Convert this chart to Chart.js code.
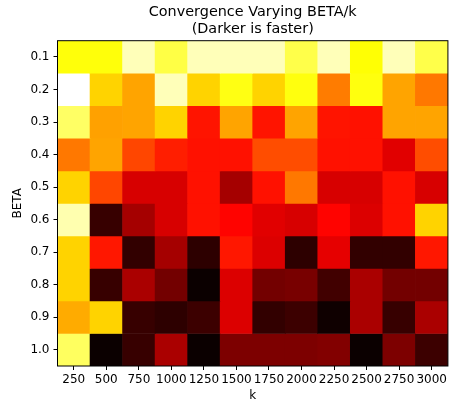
<!DOCTYPE html>
<html>
<head>
<meta charset="utf-8">
<script src="https://cdn.jsdelivr.net/npm/chart.js@4"></script>
<style>
  body { margin: 0; background: #fff; }
</style>
</head>
<body>
<canvas id="myChart" width="450" height="406"></canvas>
<script>
// k values along x, BETA values along y
const kValues = ["250", "500", "750", "1000", "1250", "1500", "1750", "2000", "2250", "2500", "2750", "3000"];
const betas = ["0.1", "0.2", "0.3", "0.4", "0.5", "0.6", "0.7", "0.8", "0.9", "1.0"];

// convergence (normalised, 0 = fastest / darkest), one row per BETA
const row01 = [0.756, 0.756, 0.93, 0.815, 0.93, 0.93, 0.93, 0.82, 0.93, 0.75, 0.93, 0.82];
const row02 = [1.0, 0.68, 0.61, 0.93, 0.68, 0.765, 0.68, 0.76, 0.55, 0.76, 0.61, 0.545];
const row03 = [0.846, 0.605, 0.61, 0.68, 0.395, 0.61, 0.395, 0.61, 0.395, 0.39, 0.61, 0.61];
const row04 = [0.545, 0.61, 0.47, 0.41, 0.39, 0.39, 0.48, 0.48, 0.39, 0.39, 0.32, 0.48];
const row05 = [0.68, 0.47, 0.305, 0.305, 0.39, 0.231, 0.39, 0.545, 0.305, 0.305, 0.39, 0.305];
const row06 = [0.92, 0.066, 0.231, 0.305, 0.39, 0.37, 0.32, 0.305, 0.37, 0.313, 0.39, 0.68];
const row07 = [0.68, 0.4, 0.059, 0.231, 0.051, 0.4, 0.313, 0.051, 0.328, 0.059, 0.059, 0.4];
const row08 = [0.68, 0.066, 0.238, 0.156, 0.0, 0.313, 0.156, 0.163, 0.081, 0.238, 0.156, 0.156];
const row09 = [0.62, 0.68, 0.066, 0.051, 0.074, 0.313, 0.059, 0.074, 0.007, 0.238, 0.066, 0.238];
const row10 = [0.841, 0.0, 0.066, 0.238, 0.0, 0.171, 0.171, 0.171, 0.178, 0.0, 0.171, 0.074];
const rows = [row01, row02, row03, row04, row05, row06, row07, row08, row09, row10];

// matplotlib "hot" colormap
function hot(t) {
  const clip = (v) => Math.max(0, Math.min(1, v));
  const r = clip(0.0416 + t * (1 - 0.0416) / 0.365079);
  const g = clip((t - 0.365079) / (0.746032 - 0.365079));
  const b = clip((t - 0.746032) / (1 - 0.746032));
  return `rgb(${Math.round(r * 255)}, ${Math.round(g * 255)}, ${Math.round(b * 255)})`;
}

const fontFamily = "'DejaVu Sans', sans-serif";

// frame around the plot + two-line title centred over the plot area
const framePlugin = {
  id: "frame",
  afterDraw(chart) {
    const { ctx, chartArea: a } = chart;
    ctx.save();
    ctx.strokeStyle = "#000";
    ctx.lineWidth = 1;
    ctx.strokeRect(a.left, a.top, a.right - a.left, a.bottom - a.top);
    ctx.fillStyle = "#000";
    ctx.font = "14.4px " + fontFamily;
    ctx.textAlign = "center";
    ctx.textBaseline = "middle";
    const cx = (a.left + a.right) / 2;
    ctx.fillText("Convergence Varying BETA/k", cx, 12.5);
    ctx.fillText("(Darker is faster)", cx, 29);
    ctx.restore();
  },
};

const ctx = document.getElementById("myChart").getContext("2d");
const myChart = new Chart(ctx, {
  type: "bar",
  data: {
    labels: kValues,
    datasets: rows.map((row, i) => ({
      label: betas[i],
      data: row.map(() => 1), // each cell is one unit tall
      backgroundColor: row.map(hot),
      borderWidth: 0,
      barPercentage: 1,
      categoryPercentage: 1,
    })),
  },
  options: {
    responsive: false,
    animation: false,
    layout: { padding: { top: 40.7, right: 2, left: 0, bottom: 0 } },
    plugins: {
      legend: { display: false },
      tooltip: { enabled: false },
      title: { display: false },
    },
    scales: {
      x: {
        stacked: true,
        grid: { offset: false, drawOnChartArea: false, color: "#000", tickLength: 4 },
        border: { display: false },
        ticks: {
          autoSkip: false,
          maxRotation: 0,
          padding: 3,
          color: "#000",
          font: { family: fontFamily, size: 12 },
        },
        title: {
          display: true,
          text: "k",
          color: "#000",
          padding: { top: 0, bottom: 3 },
          font: { family: fontFamily, size: 12 },
        },
        afterFit(scale) {
          scale.height = 40;
        },
      },
      y: {
        stacked: true,
        reverse: true,
        min: 0,
        max: 10,
        grid: { drawOnChartArea: false, color: "#000", tickLength: 4 },
        border: { display: false },
        afterBuildTicks(scale) {
          scale.ticks = betas.map((b, i) => ({ value: i + 0.5 }));
        },
        ticks: {
          padding: 4,
          color: "#000",
          font: { family: fontFamily, size: 12 },
          callback: (v, i) => betas[i],
        },
        title: {
          display: true,
          text: "BETA",
          color: "#000",
          padding: { top: 11, bottom: 0 },
          font: { family: fontFamily, size: 12 },
        },
        afterFit(scale) {
          scale.width = 57.5;
        },
      },
    },
  },
  plugins: [framePlugin],
});
</script>
</body>
</html>
